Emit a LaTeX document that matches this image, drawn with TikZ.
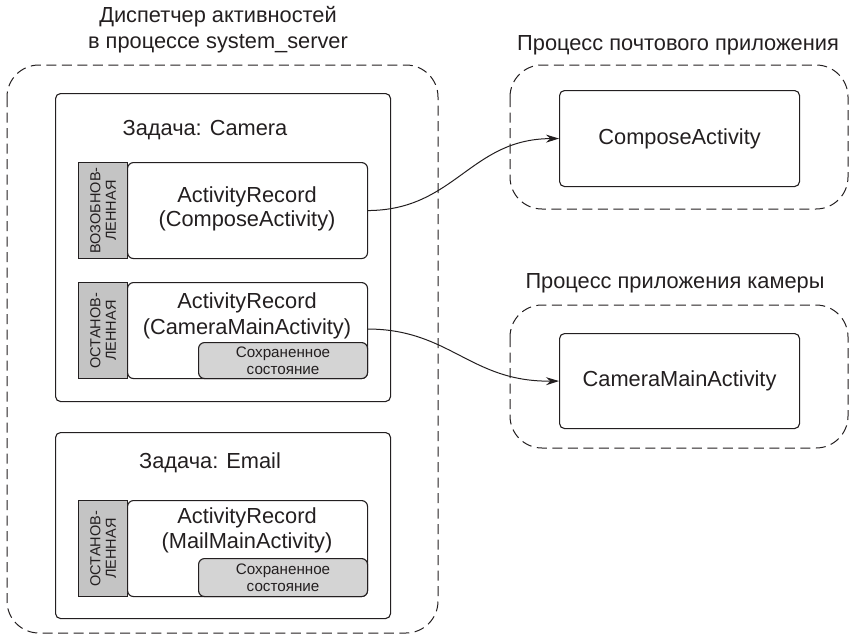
\documentclass[tikz,border=0pt]{standalone}
\usepackage{fontspec}
\setmainfont{Liberation Sans}
\usetikzlibrary{arrows.meta}
\definecolor{stripgray}{HTML}{C4C4C4}
\definecolor{savegray}{HTML}{D4D4D4}
\definecolor{ink}{HTML}{231F20}
\tikzset{
  dashbox/.style={draw=ink, line width=1pt, dash pattern=on 10pt off 5.5pt, rounded corners=32pt},
  taskbox/.style={draw=ink, line width=1.1pt, rounded corners=5pt, anchor=north west, inner sep=0pt},
  recbox/.style={draw=ink, line width=1.1pt, rounded corners=6pt, anchor=north west, inner sep=0pt, fill=white},
  strip/.style={draw=ink, line width=1.1pt, fill=stripgray, anchor=north west, inner sep=0pt},
  savebox/.style={draw=ink, line width=1.1pt, rounded corners=6pt, fill=savegray, anchor=north west, inner sep=0pt},
  actbox/.style={draw=ink, line width=1.1pt, rounded corners=5pt, anchor=north west, inner sep=0pt},
  big/.style={font=\fontsize{21.8}{25}\selectfont, text=ink, inner sep=0pt},
  small/.style={font=\fontsize{15.2}{16.5}\selectfont, text=ink, inner sep=0pt, align=center},
  stripfont/.style={font=\fontsize{14.5}{15.5}\selectfont, text=ink, inner sep=0pt, align=center, rotate=90},
  conn/.style={draw=ink, line width=1pt, -{Stealth[length=13pt,width=8pt]}},
}
\begin{document}
\begin{tikzpicture}[x=1pt,y=-1pt]
\useasboundingbox (0,0) rectangle (850,642);

% titles
\node[big] (t1) at (218,17) {Диспетчер активностей};
\node[big] (t2) at (218,44) {в процессе system\_server};
\node[big] (t3) at (678,45) {Процесс почтового приложения};
\node[big] (t4) at (675,283) {Процесс приложения камеры};

% dashed containers
\draw[dashbox] (7,65) rectangle (438,633);
\draw[dashbox] (510,65) rectangle (848,209);
\draw[dashbox] (510,305) rectangle (848,448);

% task Camera
\node[taskbox, minimum width=335pt, minimum height=308pt] (tcam) at (55,93) {};
\node[big] (tcaml) at (205,130) {Задача: Camera};

% record 1
\node[strip, minimum width=49pt, minimum height=96pt] (s1) at (78,162) {};
\node[stripfont] (s1t) at (s1.center) {ВОЗОБНОВ-\\ЛЕННАЯ};
\node[recbox, minimum width=240pt, minimum height=96pt] (r1) at (127,162) {};
\node[big] (r1a) at (247,197) {ActivityRecord};
\node[big] (r1b) at (247,221) {(ComposeActivity)};

% record 2
\node[strip, minimum width=49pt, minimum height=96pt] (s2) at (78,282) {};
\node[stripfont] (s2t) at (s2.center) {ОСТАНОВ-\\ЛЕННАЯ};
\node[recbox, minimum width=240pt, minimum height=96pt] (r2) at (127,282) {};
\node[big] (r2a) at (247,303) {ActivityRecord};
\node[big] (r2b) at (247,329) {(CameraMainActivity)};
\node[savebox, minimum width=169pt, minimum height=36pt] (sv2) at (198,342) {};
\node[small] (sv2t) at (sv2.center) {Сохраненное\\состояние};

% task Email
\node[taskbox, minimum width=335pt, minimum height=186pt] (tmail) at (55,432) {};
\node[big] (tmaill) at (210,463) {Задача: Email};

% record 3
\node[strip, minimum width=49pt, minimum height=96pt] (s3) at (78,500) {};
\node[stripfont] (s3t) at (s3.center) {ОСТАНОВ-\\ЛЕННАЯ};
\node[recbox, minimum width=240pt, minimum height=96pt] (r3) at (127,500) {};
\node[big] (r3a) at (247,518) {ActivityRecord};
\node[big] (r3b) at (247,543) {(MailMainActivity)};
\node[savebox, minimum width=169pt, minimum height=38pt] (sv3) at (198,558) {};
\node[small] (sv3t) at (sv3.center) {Сохраненное\\состояние};

% processes' activities
\node[actbox, minimum width=240pt, minimum height=96pt] (cmp) at (559,90) {};
\node[big] (cmpt) at (cmp.center) {ComposeActivity};
\node[actbox, minimum width=240pt, minimum height=95pt] (cam) at (559,333) {};
\node[big] (camt) at (cam.center) {CameraMainActivity};

% connectors
\coordinate (r1o) at (r1.east);
\coordinate (r2o) at (367,329);
\draw[conn] (r1o) .. controls (455,210) and (470,139) .. (cmp.west);
\draw[conn] (r2o) .. controls (450,329) and (470,382) .. (cam.west);
\end{tikzpicture}
\end{document}
